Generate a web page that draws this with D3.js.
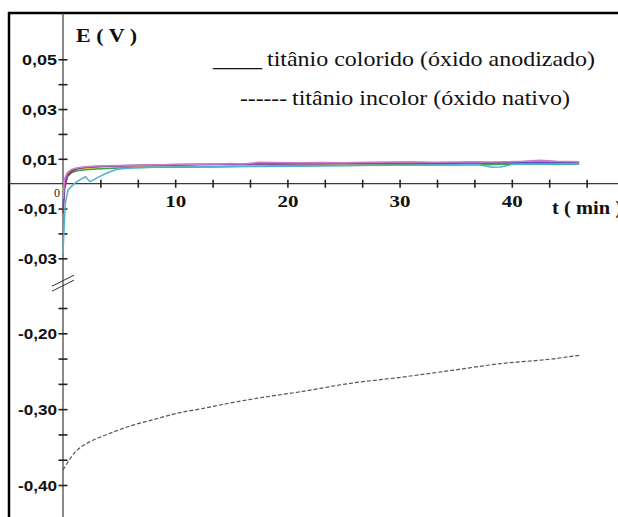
<!DOCTYPE html>
<html><head><meta charset="utf-8">
<script src="https://cdn.jsdelivr.net/npm/d3@7/dist/d3.min.js"></script>
<style>
html,body{margin:0;padding:0;background:#fff;overflow:hidden}
</style>
</head><body>
<svg id="chart" width="618" height="517"></svg>
<script>
// ---- data (time in min, potential E in V) ----
const timeColored = [0, 0.15, 0.4, 0.8, 1.3, 2, 3, 4, 5, 6.5, 8, 10, 12, 14, 15, 16, 17.5, 19, 21, 23, 25, 27, 29, 31, 33, 35, 36.5, 38, 39.5, 41, 42.5, 44, 45, 46];
const magentaE = [-0.006, 0.002, 0.0045, 0.0058, 0.0064, 0.0068, 0.0071, 0.0072, 0.0073, 0.0074, 0.0075, 0.0077, 0.0078, 0.0079, 0.0081, 0.0079, 0.0086, 0.0085, 0.0084, 0.0085, 0.0084, 0.0086, 0.0087, 0.0088, 0.0086, 0.0087, 0.0088, 0.0087, 0.0088, 0.0090, 0.0094, 0.0090, 0.0089, 0.0088];
const purpleE  = [-0.010, 0.000, 0.0040, 0.0055, 0.0062, 0.0066, 0.0069, 0.0071, 0.0072, 0.0074, 0.0075, 0.0077, 0.0078, 0.0078, 0.0079, 0.0079, 0.0080, 0.0081, 0.0080, 0.0081, 0.0082, 0.0081, 0.0083, 0.0082, 0.0083, 0.0084, 0.0085, 0.0084, 0.0085, 0.0086, 0.0087, 0.0086, 0.0085, 0.0085];
const redE     = [-0.012, -0.002, 0.003, 0.005, 0.006, 0.0065, 0.0068, 0.0070, 0.0071, 0.0072, 0.0073, 0.0074, 0.0076, 0.0077, 0.0077, 0.0078, 0.0079, 0.0079, 0.0080, 0.0080, 0.0081, 0.0081, 0.0082, 0.0081, 0.0082, 0.0082, 0.0083, 0.0083, 0.0084, 0.0084, 0.0083, 0.0084, 0.0084, 0.0083];
const greenE   = [-0.004, 0.001, 0.003, 0.0045, 0.0052, 0.0056, 0.0059, 0.0061, 0.0063, 0.0065, 0.0066, 0.0066, 0.0067, 0.0068, 0.0069, 0.0070, 0.0070, 0.0071, 0.0072, 0.0073, 0.0073, 0.0074, 0.0075, 0.0075, 0.0076, 0.0075, 0.0077, 0.0076, 0.0078, 0.0078, 0.0079, 0.0077, 0.0078, 0.0079];
const yellowE  = [-0.003, 0.0015, 0.0035, 0.005, 0.0057, 0.006, 0.0062, 0.0063, 0.0064, 0.0065, 0.0066, 0.0067, 0.0068, 0.0069, 0.0070, 0.0070, 0.0071, 0.0072, 0.0073, 0.0073, 0.0074, 0.0075, 0.0076, 0.0076, 0.0077, 0.0078, 0.0079, 0.0080, 0.0080, 0.0081, 0.0082, 0.0081, 0.0081, 0.0082];
const timeCyan = [0, 0.2, 0.45, 1, 1.5, 2, 2.4, 3, 3.75, 4.8, 6, 8, 10, 14, 18, 22, 26, 30, 34, 37, 38.2, 39, 40, 42, 44, 46];
const cyanE    = [-0.028, -0.008, -0.0025, 0.000, 0.0015, 0.0028, 0.0008, 0.0022, 0.004, 0.0058, 0.0063, 0.0066, 0.0067, 0.0068, 0.0069, 0.0071, 0.0073, 0.0074, 0.0076, 0.0077, 0.0066, 0.0067, 0.0077, 0.0079, 0.0079, 0.0080];
const timeNative = [0, 0.3, 0.6, 1.0, 1.6, 2.4, 3.3, 4.5, 6.25, 8, 10.3, 12.5, 15.2, 18, 21.2, 25.6, 30.1, 34.6, 39, 43.5, 46];
const nativeE    = [-0.380, -0.373, -0.366, -0.358, -0.350, -0.343, -0.337, -0.330, -0.321, -0.314, -0.305, -0.299, -0.291, -0.284, -0.277, -0.266, -0.258, -0.249, -0.240, -0.234, -0.229];

const seriesColors = ["#d27ad0", "#5a55b8", "#b02a4a", "#3fa64a", "#e4e23a", "#4fb2d8"];

const xTickValues = [10/3, 20/3, 10, 40/3, 50/3, 20, 70/3, 80/3, 30, 100/3, 110/3, 40, 130/3, 140/3];
const xTickLabels = {10: "10", 20: "20", 30: "30", 40: "40"};
const upperTicks = [0.05, 0.04, 0.03, 0.02, 0.01, -0.01, -0.02, -0.03];
const upperLabels = {"0.05": "0,05", "0.03": "0,03", "0.01": "0,01", "-0.01": "-0,01", "-0.03": "-0,03"};
const lowerTicks = [-0.5/3, -0.2, -0.7/3, -0.8/3, -0.3, -1/3, -1.1/3, -0.4];
const lowerLabels = {"-0.2": "-0,20", "-0.3": "-0,30", "-0.4": "-0,40"};
const legendColored = "titânio colorido (óxido anodizado)";
const legendNative = "titânio incolor (óxido nativo)";

const SERIF = "'Liberation Serif', 'Times New Roman', Times, serif";
const SANS = "'Liberation Sans', Arial, Helvetica, sans-serif";

// ---- scales ----
const svg = d3.select("#chart");
const x = d3.scaleLinear().domain([0, 50]).range([63, 624]);
const yUp = d3.scaleLinear().domain([-0.03, 0.05]).range([258.3, 59.3]);
const yLow = d3.scaleLinear().domain([-0.40, -0.20]).range([485, 333.3]);
const x0 = x(0), yZero = yUp(0);

svg.append("rect").attr("width", 618).attr("height", 517).attr("fill", "#fff");

// frame
svg.append("line").attr("x1", 8).attr("x2", 618).attr("y1", 13).attr("y2", 13).attr("stroke", "#000").attr("stroke-width", 2.5);
svg.append("line").attr("x1", 9).attr("x2", 9).attr("y1", 12).attr("y2", 517).attr("stroke", "#000").attr("stroke-width", 2.5);

// axis lines
svg.append("line").attr("x1", 9).attr("x2", 618).attr("y1", yZero).attr("y2", yZero).attr("stroke", "#3a3a3a").attr("stroke-width", 1.2);
svg.append("line").attr("x1", x0).attr("x2", x0).attr("y1", 13).attr("y2", 517).attr("stroke", "#3a3a3a").attr("stroke-width", 1.2);

// x axis ticks
const gx = svg.append("g").attr("transform", `translate(0,${yZero})`)
  .call(d3.axisBottom(x).tickValues(xTickValues).tickSize(0)
    .tickFormat(d => { const r = Math.round(d); return Math.abs(d - r) < 1e-6 && xTickLabels[r] ? xTickLabels[r] : ""; }));
gx.select(".domain").remove();
gx.selectAll(".tick line").attr("y1", -4).attr("y2", 4).attr("stroke", "#222").attr("stroke-width", 1.6);
gx.selectAll(".tick text").attr("y", 23).attr("dy", 0)
  .style("font-family", SERIF).style("font-weight", "bold").style("font-size", "16px").attr("fill", "#111")
  .each(function() { if (this.textContent) d3.select(this).attr("textLength", 21).attr("lengthAdjust", "spacingAndGlyphs"); });

// y axis ticks
function styleY(g) {
  g.select(".domain").remove();
  g.selectAll(".tick line").attr("x1", -4.5).attr("x2", 4.5).attr("stroke", "#222").attr("stroke-width", 1.6);
  g.selectAll(".tick text").attr("x", -6).attr("dy", "0.36em")
    .style("font-family", SANS).style("font-weight", "bold").style("font-size", "15px").attr("fill", "#111")
    .each(function() {
      const t = this.textContent;
      if (t) d3.select(this).attr("textLength", t.length === 4 ? 35 : 39).attr("lengthAdjust", "spacingAndGlyphs");
    });
}
const key = d => String(Math.round(d * 100) / 100);
const gyU = svg.append("g").attr("transform", `translate(${x0},0)`)
  .call(d3.axisLeft(yUp).tickValues(upperTicks).tickSize(0).tickFormat(d => upperLabels[key(d)] || ""));
styleY(gyU);
const gyL = svg.append("g").attr("transform", `translate(${x0},0)`)
  .call(d3.axisLeft(yLow).tickValues(lowerTicks).tickSize(0).tickFormat(d => lowerLabels[key(d)] || ""));
styleY(gyL);

// origin label
svg.append("text").attr("x", x0 - 3).attr("y", yZero + 13).attr("text-anchor", "end")
  .style("font-family", SERIF).style("font-size", "12px").attr("fill", "#222").text("0");

// axis break symbol
const breakY = (yUp(-0.03) + yLow(-0.5/3)) / 2;
[-2.5, 2.5].forEach(o => {
  svg.append("line").attr("x1", x0 - 11).attr("x2", x0 + 11)
    .attr("y1", breakY + o + 5.5).attr("y2", breakY + o - 5.5)
    .attr("stroke", "#333").attr("stroke-width", 1);
});

// axis titles
svg.append("text").attr("x", 76).attr("y", 42)
  .style("font-family", SERIF).style("font-weight", "bold").style("font-size", "19px")
  .attr("textLength", 61).attr("lengthAdjust", "spacingAndGlyphs").attr("fill", "#111").text("E ( V )");
svg.append("text").attr("x", 552).attr("y", 214)
  .style("font-family", SERIF).style("font-weight", "bold").style("font-size", "19px")
  .attr("textLength", 70).attr("lengthAdjust", "spacingAndGlyphs").attr("fill", "#111").text("t ( min )");

// legend
const legendItems = [
  {text: "____", x: 213, y: 66, w: 49},
  {text: legendColored, x: 267, y: 66, w: 328},
  {text: "------", x: 240, y: 105, w: 47},
  {text: legendNative, x: 292, y: 105, w: 278}
];
legendItems.forEach(it => {
  svg.append("text").attr("x", it.x).attr("y", it.y)
    .style("font-family", SERIF).style("font-size", "21px").style("font-weight", "normal")
    .attr("fill", "#111").attr("textLength", it.w).attr("lengthAdjust", "spacingAndGlyphs").text(it.text);
});

// data lines
const lineUp = d3.line().x(d => x(d[0])).y(d => yUp(d[1]));
const lineLow = d3.line().x(d => x(d[0])).y(d => yLow(d[1])).curve(d3.curveMonotoneX);
const colored = [magentaE, purpleE, redE, greenE, yellowE];
[4, 3, 2, 1, 0].forEach(i => {
  svg.append("path").datum(timeColored.map((t, j) => [t, colored[i][j]]))
    .attr("d", lineUp).attr("fill", "none").attr("stroke", seriesColors[i]).attr("stroke-width", 1.5);
});
svg.append("path").datum(timeCyan.map((t, j) => [t, cyanE[j]]))
  .attr("d", lineUp).attr("fill", "none").attr("stroke", seriesColors[5]).attr("stroke-width", 1.5);
svg.append("path").datum(timeNative.map((t, j) => [t, nativeE[j]]))
  .attr("d", lineLow).attr("fill", "none").attr("stroke", "#555").attr("stroke-width", 1.2).attr("stroke-dasharray", "4,2");
</script>
</body></html>
